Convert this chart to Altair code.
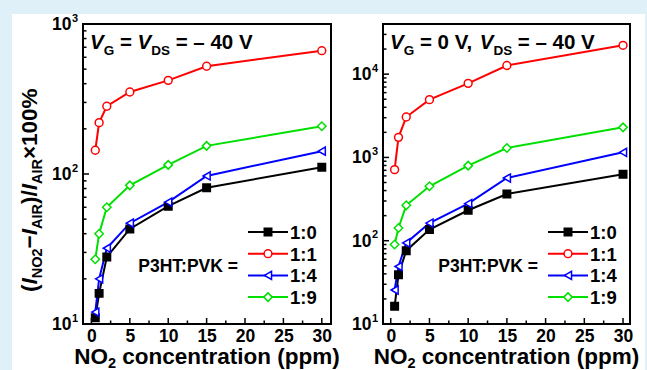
import altair as alt
import pandas as pd

# ---------------- data ----------------
conc = [0.5, 1, 2, 5, 10, 15, 30]
series_names = ["1:0", "1:1", "1:4", "1:9"]

# left panel: VG = VDS = -40 V
a_10 = [11, 16, 28, 43, 61, 81, 111]
a_11 = [144, 220, 283, 352, 421, 523, 664]
a_14 = [12, 20, 32, 47, 65, 97, 142]
a_19 = [27, 40, 60, 84, 115, 154, 208]

# right panel: VG = 0 V, VDS = -40 V
b_10 = [16.3, 39, 76, 136, 232, 364, 627]
b_11 = [713, 1742, 3055, 4940, 7750, 12700, 22200]
b_14 = [25.6, 49, 94, 163, 279, 566, 1151]
b_19 = [90, 142, 266, 450, 797, 1297, 2297]

x_major = [0, 5, 10, 15, 20, 25, 30]
x_minor = [2.5, 7.5, 12.5, 17.5, 22.5, 27.5]
y_dec_a = [10, 100, 1000]
y_dec_b = [10, 100, 1000, 10000]
y_exp_a = ["1", "2", "3"]
y_exp_b = ["1", "2", "3", "4"]
y_minor_a = [20, 30, 40, 50, 60, 70, 80, 90, 200, 300, 400, 500, 600, 700, 800, 900]
y_minor_b = y_minor_a + [2000, 3000, 4000, 5000, 6000, 7000, 8000, 9000, 20000, 30000]

colors = ["#000000", "#ff0000", "#0000ff", "#00e000"]
fills = ["#000000", "#ffffff", "#ffffff", "#ffffff"]
shapes = ["square", "circle", "triangle-left", "diamond"]
sizes = [56, 72, 90, 105]

FONT = "Liberation Sans"

# Arial-bold advance widths (per 1000 em) for laying out composed text
W = {'(': 333, ')': 333, '/': 278, 'I': 278, 'N': 722, 'O': 778, '2': 556, 'A': 722,
     'R': 722, '−': 584, '×': 584, '1': 556, '0': 556, '%': 889, ' ': 278, 'V': 667,
     'G': 778, 'D': 722, 'S': 667, '=': 584, '–': 556, '4': 556, ',': 278, 'c': 556,
     'o': 611, 'n': 611, 'e': 556, 't': 333, 'r': 389, 'a': 556, 'i': 278, 'p': 611,
     'm': 889}


def tw(s, size):
    return sum(W.get(ch, 556) for ch in s) * size / 1000.0


one = pd.DataFrame({"a": [0]})


def composed(pieces, x0, y0, size, sub_size, sub_shift, vertical=False):
    """pieces: (text, is_sub, is_italic). Returns list of text layers."""
    layers = []
    cur = 0.0
    for text, is_sub, is_it in pieces:
        fs = sub_size if is_sub else size
        lead = len(text) - len(text.lstrip(" "))
        start = cur + tw(" " * lead, fs)
        shown = text.strip(" ")
        props = dict(font=FONT, fontWeight="bold", fontSize=fs, align="left",
                     baseline="alphabetic", color="black", text=shown)
        if is_it:
            props["fontStyle"] = "italic"
        if vertical:
            props["angle"] = 270
            enc = dict(x=alt.value(x0 + (sub_shift if is_sub else 0)), y=alt.value(y0 - start))
        else:
            enc = dict(x=alt.value(x0 + start), y=alt.value(y0 + (sub_shift if is_sub else 0)))
        layers.append(alt.Chart(one).mark_text(**props).encode(**enc))
        cur += tw(text, fs)
    return layers, cur


def make_panel(vals, xdom, ydom, decs, exps, yminor, width, height, ann_pieces,
               ytitle=False, bg=False):
    H = height
    df = pd.DataFrame({
        "conc": conc * 4,
        "value": sum(vals, []),
        "series": sum([[n] * len(conc) for n in series_names], []),
    })
    xs = alt.Scale(domain=xdom, nice=False, zero=False)
    ys = alt.Scale(type="log", domain=ydom, nice=False)
    col = alt.Color("series:N", scale=alt.Scale(domain=series_names, range=colors), legend=None)
    strk = alt.Stroke("series:N", scale=alt.Scale(domain=series_names, range=colors), legend=None)
    fil = alt.Fill("series:N", scale=alt.Scale(domain=series_names, range=fills), legend=None)
    shp = alt.Shape("series:N", scale=alt.Scale(domain=series_names, range=shapes), legend=None)
    siz = alt.Size("series:N", scale=alt.Scale(domain=series_names, range=sizes), legend=None)

    xaxis = alt.Axis(values=x_major, ticks=False, domain=False, grid=False, title=None,
                     labelFont=FONT, labelFontWeight="bold", labelFontSize=17.5,
                     labelColor="black", labelPadding=3, labelFlush=False, labelOverlap=False,
                     zindex=2)

    def X(field):
        return alt.X(field, scale=xs, axis=xaxis)

    def Y(field):
        return alt.Y(field, scale=ys, axis=None)

    layers = []
    if bg:
        layers.append(alt.Chart(one).mark_rect(color="white").encode(
            x=alt.value(-71), x2=alt.value(562), y=alt.value(-10), y2=alt.value(348)))

    # data
    layers.append(alt.Chart(df).mark_line(strokeWidth=2).encode(
        x=X("conc:Q"), y=Y("value:Q"), color=col))

    # ticks (inward)
    layers.append(alt.Chart(pd.DataFrame({"conc": x_major})).mark_rule(color="black", strokeWidth=1.5).encode(
        x=X("conc:Q"), y=alt.value(H), y2=alt.value(H - 6)))
    layers.append(alt.Chart(pd.DataFrame({"conc": x_minor})).mark_rule(color="black", strokeWidth=1.5).encode(
        x=X("conc:Q"), y=alt.value(H), y2=alt.value(H - 3.5)))
    layers.append(alt.Chart(pd.DataFrame({"value": decs})).mark_rule(color="black", strokeWidth=1.5).encode(
        y=Y("value:Q"), x=alt.value(0), x2=alt.value(6)))
    layers.append(alt.Chart(pd.DataFrame({"value": yminor})).mark_rule(color="black", strokeWidth=1.5).encode(
        y=Y("value:Q"), x=alt.value(0), x2=alt.value(3.5)))

    # y tick labels 10^n
    ydf = pd.DataFrame({"value": decs, "e": exps})
    layers.append(alt.Chart(ydf).mark_text(text="10", font=FONT, fontWeight="bold", fontSize=17.5,
                                           align="right", baseline="middle", dy=1, color="black").encode(
        y=Y("value:Q"), x=alt.value(-11.5)))
    layers.append(alt.Chart(ydf).mark_text(font=FONT, fontWeight="bold", fontSize=11,
                                           align="left", baseline="middle", dy=-5.5, color="black").encode(
        y=Y("value:Q"), x=alt.value(-11), text="e:N"))

    layers.append(alt.Chart(df).mark_point(filled=True, strokeWidth=1.5, opacity=1, fillOpacity=1).encode(
        x=X("conc:Q"), y=Y("value:Q"), stroke=strk, fill=fil, shape=shp, size=siz))

    # legend
    leg = pd.DataFrame({"series": series_names, "row": list(range(len(series_names)))})
    lg = alt.Chart(leg).transform_calculate(ly="208 + datum.row * 21.7")
    layers.append(lg.mark_rule(strokeWidth=2).encode(
        x=alt.value(165), x2=alt.value(205), y=alt.Y("ly:Q", scale=None), color=col))
    layers.append(lg.mark_point(filled=True, strokeWidth=1.5, opacity=1, fillOpacity=1).encode(
        x=alt.value(185), y=alt.Y("ly:Q", scale=None), stroke=strk, fill=fil, shape=shp, size=siz))
    layers.append(lg.mark_text(font=FONT, fontWeight="bold", fontSize=18.5, align="left",
                               baseline="middle", dy=1, color="black").encode(
        x=alt.value(207), y=alt.Y("ly:Q", scale=None), text="series:N"))
    layers.append(alt.Chart(one).mark_text(text="P3HT:PVK =", font=FONT, fontWeight="bold", fontSize=17.5,
                                           align="right", baseline="middle", dy=1, color="black").encode(
        x=alt.value(155), y=alt.value(242)))

    # condition annotation
    ann, _ = composed(ann_pieces, 7, 24.5, 20.5, 13.5, 6)
    layers += ann

    # x title
    xt_pieces = [("NO", False, False), ("2", True, False), (" concentration (ppm)", False, False)]
    total = sum(tw(t, 14.5 if s else 22.5) for t, s, _ in xt_pieces)
    xt, _ = composed(xt_pieces, width / 2 - total / 2, H + 40, 22.5, 14.5, 4)
    layers += xt

    if ytitle:
        yt_pieces = [("(", False, False), ("I", False, True), ("NO2", True, False), ("−", False, False),
                     ("I", False, True), ("AIR", True, False), (")/", False, False), ("I", False, True),
                     ("AIR", True, False), ("×100%", False, False)]
        yt, _ = composed(yt_pieces, -46, 268, 22.5, 14.5, 5, vertical=True)
        layers += yt

    # frame on top
    layers.append(alt.Chart(one).mark_rect(fill=None, stroke="black", strokeWidth=2, filled=False).encode(
        x=alt.value(0), x2=alt.value(width), y=alt.value(0), y2=alt.value(H)))

    return alt.layer(*layers).properties(width=width, height=height)


ann_a = [("V", False, True), ("G", True, False), (" = ", False, False), ("V", False, True),
         ("DS", True, False), (" = – 40 V", False, False)]
ann_b = [("V", False, True), ("G", True, False), (" = 0 V, ", False, False), ("V", False, True),
         ("DS", True, False), (" = – 40 V", False, False)]

p1 = make_panel([a_10, a_11, a_14, a_19], [-1.1, 31.2], [10, 1000], y_dec_a, y_exp_a, y_minor_a,
                248, 300, ann_a, ytitle=True, bg=True)
p2 = make_panel([b_10, b_11, b_14, b_19], [-1.0, 30.9], [10, 40000], y_dec_b, y_exp_b, y_minor_b,
                247, 300, ann_b)

chart = alt.hconcat(p1, p2, spacing=52, bounds="flush").properties(
    padding={"left": 12, "top": 12, "right": 2, "bottom": 0},
    background="#dff0f8",
).configure_view(stroke=None)

chart.save("out.html", embed_options={"renderer": "svg", "actions": False})
